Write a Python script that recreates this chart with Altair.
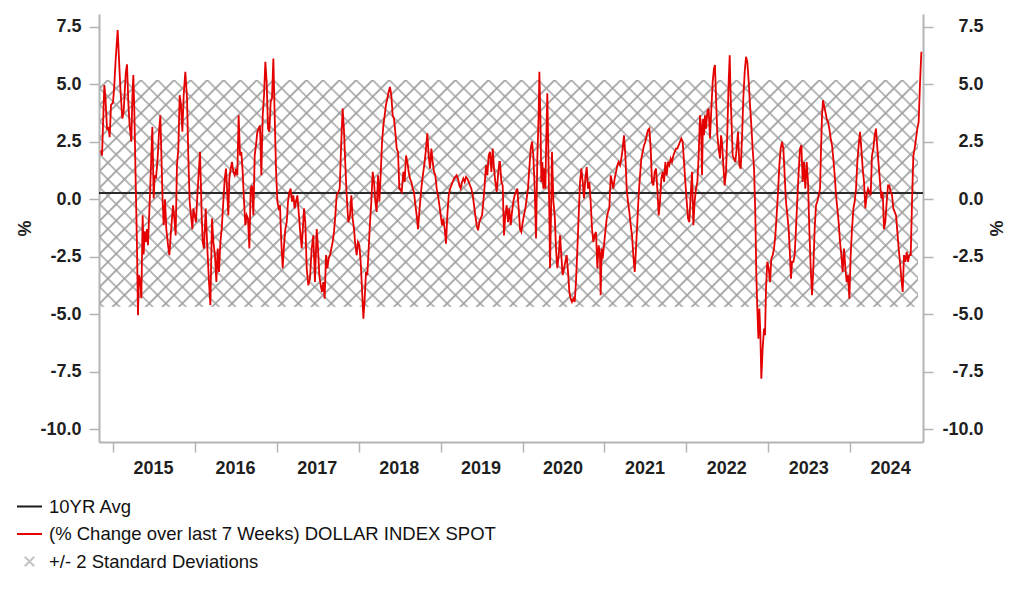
import urllib.parse
import altair as alt
import pandas as pd

# ---------------- data (decimal years, % change) ----------------
yrs_2015 = [2014.853, 2014.866, 2014.894, 2014.906, 2014.927, 2014.947, 2014.959, 2014.976, 2015.000, 2015.016,
            2015.033, 2015.057, 2015.073, 2015.090, 2015.114, 2015.130, 2015.155, 2015.171, 2015.187, 2015.203,
            2015.224, 2015.236, 2015.248, 2015.260, 2015.277, 2015.293, 2015.305, 2015.317, 2015.334, 2015.346,
            2015.362, 2015.374, 2015.387, 2015.403, 2015.415, 2015.427, 2015.448, 2015.464, 2015.480, 2015.497,
            2015.509, 2015.525, 2015.545, 2015.562, 2015.578, 2015.594, 2015.606, 2015.619, 2015.635, 2015.651,
            2015.672, 2015.688, 2015.708, 2015.733, 2015.749, 2015.765, 2015.781, 2015.798, 2015.814, 2015.830,
            2015.847, 2015.863, 2015.883, 2015.904, 2015.920, 2015.936, 2015.952, 2015.969, 2015.981, 2015.997,
            2016.013, 2016.030]
val_2015 = [2.13, 1.9, 4.96, 4.5, 3.07, 3.1, 2.7, 4.1, 4.2, 4.96,
            6.1, 7.35, 6.1, 4.8, 3.5, 3.8, 5.46, 5.86, 4.2, 3.2,
            2.5, 4.4, 5.4, 3.9, 0.75, -2.1, -5.04, -3.3, -3.6, -4.3,
            -0.7, -2.4, -1.4, -1.85, -1.3, -2.0, -0.1, 1.48, 3.14, 0.03,
            1.04, 0.9, 1.77, 2.93, 3.65, 1.48, -0.1, -1.13, 0.0, -1.3,
            -2.0, -2.43, -1.4, -0.26, -0.84, -1.57, 1.48, 2.2, 4.52, 4.1,
            2.93, 4.52, 5.54, 4.38, 1.77, -0.1, -0.7, -1.3, -0.4, -0.7,
            -1.0, 0.17]

yrs_2016 = [2016.062, 2016.083, 2016.095, 2016.111, 2016.132, 2016.152, 2016.172, 2016.189, 2016.209, 2016.225,
            2016.245, 2016.262, 2016.278, 2016.294, 2016.311, 2016.327, 2016.347, 2016.364, 2016.380, 2016.396,
            2016.408, 2016.420, 2016.437, 2016.453, 2016.469, 2016.486, 2016.502, 2016.518, 2016.534, 2016.551,
            2016.567, 2016.583, 2016.600, 2016.616, 2016.632, 2016.648, 2016.665, 2016.681, 2016.697, 2016.714,
            2016.730, 2016.746, 2016.762, 2016.779, 2016.795, 2016.811, 2016.828, 2016.844, 2016.860, 2016.876,
            2016.893, 2016.909, 2016.925, 2016.941, 2016.958, 2016.974, 2016.990, 2017.007, 2017.023, 2017.039,
            2017.055, 2017.072, 2017.088, 2017.104, 2017.121, 2017.137, 2017.153, 2017.169, 2017.186, 2017.202,
            2017.218, 2017.234, 2017.251, 2017.267]
val_2016 = [2.06, -0.7, -1.86, -2.14, -0.4, -2.14, -3.6, -4.6, -0.84, -1.86,
            -2.43, -3.6, -2.14, -3.16, -1.86, -1.3, -0.1, 0.9, 1.33, 0.17,
            -0.7, 0.9, 1.33, 1.62, 1.19, 1.04, 1.33, 1.04, 3.65, 1.9,
            2.06, 1.19, -0.1, -1.13, -0.7, -0.84, -2.14, 0.46, 0.6, -0.7,
            1.9, 2.35, 2.93, 3.07, 3.2, 1.04, 3.65, 4.52, 5.97, 5.1,
            3.07, 2.93, 4.23, 4.38, 6.12, 3.65, 1.33, -0.1, -0.4, -0.26,
            -1.86, -3.0, -2.0, -1.3, -1.0, -0.1, 0.32, 0.46, -0.1, 0.17,
            -0.4, -0.1, 0.17, -0.55]

yrs_2017 = [2017.283, 2017.304, 2017.332, 2017.348, 2017.365, 2017.385, 2017.405, 2017.426, 2017.446, 2017.466,
            2017.487, 2017.503, 2017.519, 2017.536, 2017.552, 2017.568, 2017.584, 2017.601, 2017.617, 2017.633,
            2017.650, 2017.666, 2017.682, 2017.698, 2017.715, 2017.731, 2017.751, 2017.768, 2017.784, 2017.804,
            2017.821, 2017.837, 2017.853, 2017.873, 2017.894, 2017.910, 2017.926, 2017.943, 2017.959, 2017.975,
            2017.991, 2018.008, 2018.024, 2018.040, 2018.057, 2018.073, 2018.089, 2018.105, 2018.122, 2018.138,
            2018.154, 2018.171, 2018.187, 2018.203, 2018.219, 2018.236, 2018.252, 2018.268, 2018.285, 2018.301,
            2018.317, 2018.333, 2018.350, 2018.366, 2018.382, 2018.398, 2018.415, 2018.431, 2018.447, 2018.464,
            2018.480, 2018.496]
val_2017 = [-1.3, -2.14, -0.4, -1.0, -3.0, -3.74, -3.45, -2.14, -1.57, -3.6,
            -1.3, -2.14, -3.3, -3.74, -4.03, -3.6, -4.32, -2.43, -3.0, -2.58,
            -2.43, -2.14, -1.86, -1.42, -0.7, 0.17, 0.32, 0.46, 2.2, 3.94,
            2.93, 1.48, 0.17, -1.0, -0.7, 0.17, -0.84, -1.3, -2.0, -2.43,
            -1.86, -2.0, -2.72, -3.88, -5.19, -4.32, -3.16, -3.3, -2.14, -1.0,
            -0.1, 1.19, 0.75, -0.1, -0.55, 1.04, -0.1, 1.04, 2.5, 3.2,
            3.65, 4.1, 4.38, 4.67, 4.88, 4.52, 3.65, 3.5, 2.93, 2.2,
            2.06, 0.46]

yrs_2018 = [2018.504, 2018.525, 2018.545, 2018.561, 2018.578, 2018.594, 2018.610, 2018.626, 2018.643, 2018.659,
            2018.675, 2018.692, 2018.708, 2018.724, 2018.740, 2018.757, 2018.773, 2018.789, 2018.805, 2018.822,
            2018.838, 2018.854, 2018.871, 2018.887, 2018.903, 2018.919, 2018.936, 2018.952, 2018.968, 2018.985,
            2019.001, 2019.017, 2019.033, 2019.050, 2019.066, 2019.082, 2019.099, 2019.115, 2019.131, 2019.147,
            2019.164, 2019.180, 2019.196, 2019.212, 2019.229, 2019.245, 2019.261, 2019.278, 2019.294, 2019.310,
            2019.326, 2019.343, 2019.359, 2019.375, 2019.392, 2019.408, 2019.424, 2019.440, 2019.457, 2019.473,
            2019.489, 2019.506, 2019.522, 2019.538, 2019.554, 2019.571, 2019.587, 2019.603, 2019.620, 2019.636,
            2019.652, 2019.668, 2019.685, 2019.701, 2019.717]
val_2018 = [0.46, 0.32, 1.19, 0.75, 1.9, 1.62, 1.19, 0.9, 0.75, 0.46,
            0.32, -0.26, -0.7, -1.3, -0.55, 0.17, 0.75, 1.19, 1.62, 2.2,
            2.86, 1.9, 1.33, 2.2, 1.62, 1.19, 1.04, 0.46, 0.17, -0.26,
            -0.7, -1.13, -0.84, -1.3, -1.93, -0.7, 0.17, 0.46, 0.6, 0.75,
            0.9, 0.97, 1.04, 0.9, 0.6, 0.46, 0.75, 0.9, 0.75, 0.97,
            0.9, 0.75, 0.6, 0.46, 0.17, -0.26, -0.7, -1.13, -1.35, -1.0,
            -0.84, -0.7, -0.1, 0.6, 1.48, 1.04, 1.9, 2.06, 1.19, 2.2,
            1.33, 0.75, 0.32, 1.04, 1.62]

yrs_2020 = [2019.725, 2019.742, 2019.758, 2019.774, 2019.790, 2019.807, 2019.823, 2019.839, 2019.856, 2019.872,
            2019.888, 2019.904, 2019.921, 2019.937, 2019.953, 2019.970, 2019.986, 2020.002, 2020.018, 2020.035,
            2020.051, 2020.067, 2020.083, 2020.100, 2020.116, 2020.132, 2020.149, 2020.165, 2020.181, 2020.197,
            2020.206, 2020.218, 2020.230, 2020.242, 2020.254, 2020.267, 2020.279, 2020.291, 2020.303, 2020.315,
            2020.328, 2020.336, 2020.348, 2020.360, 2020.377, 2020.393, 2020.409, 2020.425, 2020.442, 2020.458,
            2020.474, 2020.490, 2020.507, 2020.523, 2020.539, 2020.556, 2020.572, 2020.588, 2020.604, 2020.621,
            2020.637, 2020.653, 2020.670, 2020.686, 2020.702, 2020.718, 2020.735, 2020.751, 2020.767, 2020.784,
            2020.800, 2020.816, 2020.832, 2020.849, 2020.865, 2020.881, 2020.897, 2020.914, 2020.930, 2020.946]
val_2020 = [1.62, 0.75, 0.6, -1.57, -0.7, -0.26, -1.0, -0.4, -1.13, -0.55,
            -0.1, 0.17, 0.32, 0.46, -0.4, -1.3, -1.42, -1.0, -0.7, -0.4,
            0.03, 0.46, 1.33, 2.2, 2.5, 1.9, 0.46, -1.71, 1.77, 3.65,
            5.54, 3.65, 0.75, 1.62, 0.46, 1.33, 0.46, 2.78, 4.6, 2.2,
            -0.7, -3.0, -0.7, 2.06, -0.1, -0.7, -2.14, -3.0, -2.43, -1.57,
            -2.43, -3.3, -3.0, -2.72, -2.43, -3.16, -4.03, -4.32, -4.46, -4.32,
            -4.46, -3.6, -2.14, -0.7, 0.75, 1.33, 0.75, 0.03, 0.9, 1.4,
            0.46, 0.75, -0.1, -1.3, -1.86, -1.57, -1.42, -3.0, -2.0, -2.43]

yrs_2021 = [2020.954, 2020.967, 2020.979, 2020.995, 2021.011, 2021.028, 2021.044, 2021.060, 2021.077, 2021.093,
            2021.109, 2021.125, 2021.142, 2021.158, 2021.174, 2021.191, 2021.207, 2021.223, 2021.239, 2021.256,
            2021.272, 2021.288, 2021.304, 2021.321, 2021.337, 2021.353, 2021.370, 2021.386, 2021.402, 2021.418,
            2021.435, 2021.451, 2021.467, 2021.484, 2021.500, 2021.516, 2021.532, 2021.549, 2021.565, 2021.581,
            2021.598, 2021.614, 2021.630, 2021.646, 2021.663, 2021.679, 2021.695, 2021.712, 2021.728, 2021.744,
            2021.760, 2021.777, 2021.793, 2021.809, 2021.825, 2021.842, 2021.858, 2021.874, 2021.891, 2021.907,
            2021.923, 2021.939, 2021.956, 2021.972, 2021.988, 2022.005, 2022.021, 2022.037, 2022.053, 2022.070,
            2022.086, 2022.102, 2022.118, 2022.135, 2022.151]
val_2021 = [-4.17, -2.14, -2.58, -2.0, -1.42, -0.84, -0.55, -0.4, 1.04, 0.75,
            0.46, 0.9, 1.19, 1.48, 1.62, 1.48, 1.77, 2.2, 2.78, 1.9,
            0.46, -0.1, -0.55, -1.13, -1.57, -2.43, -3.16, -2.14, -1.0, 0.17,
            1.04, 1.77, 2.06, 2.35, 2.5, 2.78, 3.0, 3.07, 2.2, 0.75,
            0.6, 1.19, 1.33, 0.46, -0.7, -0.1, 0.9, 1.19, 0.75, 1.62,
            1.04, 1.62, 1.48, 1.77, 1.62, 1.9, 2.06, 2.2, 2.2, 2.35,
            2.5, 2.64, 2.5, 1.62, 0.75, -0.1, -0.84, -1.0, 0.17, 1.19,
            -1.13, -0.1, 0.46, 0.75, 1.9]

yrs_2022 = [2022.167, 2022.180, 2022.192, 2022.204, 2022.216, 2022.228, 2022.241, 2022.257, 2022.273, 2022.289,
            2022.306, 2022.322, 2022.338, 2022.350, 2022.363, 2022.379, 2022.395, 2022.412, 2022.424, 2022.436,
            2022.452, 2022.468, 2022.485, 2022.501, 2022.517, 2022.530, 2022.542, 2022.554, 2022.566, 2022.582,
            2022.599, 2022.615, 2022.631, 2022.648, 2022.664, 2022.680, 2022.696, 2022.713, 2022.729, 2022.745,
            2022.762, 2022.778, 2022.794, 2022.810, 2022.827, 2022.843, 2022.855, 2022.867, 2022.880, 2022.892,
            2022.904, 2022.916, 2022.932, 2022.949, 2022.961, 2022.973, 2022.989, 2023.006, 2023.022, 2023.038,
            2023.055, 2023.071, 2023.087, 2023.103, 2023.120, 2023.136, 2023.152, 2023.169, 2023.185, 2023.201,
            2023.217, 2023.234, 2023.250, 2023.266, 2023.278, 2023.291, 2023.307, 2023.323, 2023.339, 2023.356,
            2023.372]
val_2022 = [3.65, 3.2, 1.04, 3.5, 2.78, 3.65, 3.07, 3.8, 3.94, 2.64,
            3.94, 5.1, 5.68, 5.83, 4.38, 2.78, 2.2, 1.77, 2.78, 2.5,
            1.48, 0.6, 1.19, 2.93, 5.1, 6.26, 4.38, 3.2, 1.9, 1.77,
            1.62, 2.2, 2.93, 1.48, 1.33, 2.64, 4.38, 5.54, 6.19, 5.97,
            5.1, 4.09, 3.2, 2.2, 1.33, -0.7, -3.3, -4.75, -6.06, -4.75,
            -5.83, -7.8, -6.5, -5.62, -5.91, -3.88, -2.72, -3.0, -3.6, -2.58,
            -2.43, -2.14, -1.57, -0.7, 0.32, 1.48, 2.2, 2.5, 2.2, 1.04,
            -0.1, -0.7, -1.3, -2.43, -3.45, -2.72, -2.72, -2.43, -1.3, 0.03,
            1.19]

yrs_2023 = [2023.388, 2023.405, 2023.421, 2023.437, 2023.453, 2023.470, 2023.486, 2023.502, 2023.519, 2023.535,
            2023.551, 2023.567, 2023.584, 2023.600, 2023.616, 2023.633, 2023.645, 2023.657, 2023.669, 2023.681,
            2023.698, 2023.714, 2023.730, 2023.746, 2023.763, 2023.779, 2023.795, 2023.812, 2023.828, 2023.844,
            2023.860, 2023.877, 2023.893, 2023.909, 2023.926, 2023.942, 2023.958, 2023.974, 2023.991, 2024.007,
            2024.023, 2024.040, 2024.056, 2024.072, 2024.088, 2024.105, 2024.121, 2024.137, 2024.154, 2024.170,
            2024.186, 2024.202, 2024.219, 2024.235, 2024.251, 2024.267, 2024.284, 2024.300, 2024.316, 2024.333,
            2024.349, 2024.365, 2024.381, 2024.398, 2024.414, 2024.430, 2024.447, 2024.463, 2024.479, 2024.495,
            2024.512, 2024.528, 2024.544, 2024.561, 2024.577, 2024.593, 2024.609, 2024.626, 2024.642, 2024.658,
            2024.674, 2024.691, 2024.707, 2024.723, 2024.740, 2024.756, 2024.772, 2024.788, 2024.805, 2024.821,
            2024.837, 2024.854, 2024.870]
val_2023 = [2.2, 2.35, 0.75, 1.62, 0.46, 1.62, 0.75, -1.3, -3.0, -4.17,
            -3.0, -1.3, -0.26, -0.1, 0.17, 0.46, 2.2, 3.65, 4.3, 4.09,
            3.8, 3.5, 3.36, 3.07, 2.64, 2.35, 1.77, 1.04, 0.17, -0.4,
            -1.0, -1.86, -2.43, -3.16, -2.14, -3.0, -3.6, -3.3, -4.32, -2.43,
            -1.3, -0.4, -0.1, 0.46, 1.62, 2.35, 2.93, 2.2, 1.33, 0.75,
            -0.4, 0.17, 0.46, 0.32, 0.17, 1.9, 2.2, 2.78, 3.07, 2.2,
            1.48, 0.75, 0.03, 0.32, -1.3, -1.0, -0.1, 0.6, 0.6, 0.32,
            0.17, -0.4, -0.55, -0.7, -1.42, -2.14, -2.72, -3.45, -4.03, -2.43,
            -2.72, -2.29, -2.72, -2.43, -2.43, -0.1, 1.9, 2.2, 2.64, 3.07,
            3.36, 5.1, 6.41]

avg_10yr = 0.27                 # 10YR average line
band_low, band_high = -4.68, 5.18   # +/- 2 standard deviations
band_start, band_end = 2014.837, 2024.83

year_ticks = list(range(2015, 2025))
y_ticks = [-10.0, -7.5, -5.0, -2.5, 0.0, 2.5, 5.0, 7.5]
series_names = ["10YR Avg", "(% Change over last 7 Weeks) DOLLAR INDEX SPOT", "+/- 2 Standard Deviations"]

# ---------------- tables ----------------
segments = [(yrs_2015, val_2015), (yrs_2016, val_2016), (yrs_2017, val_2017), (yrs_2018, val_2018),
            (yrs_2020, val_2020), (yrs_2021, val_2021), (yrs_2022, val_2022), (yrs_2023, val_2023)]
rows = []
for ys, vs in segments:
    rows.extend(zip(ys, vs))
line_df = pd.DataFrame(rows, columns=["year", "pct"])
band_df = pd.DataFrame({"start": [band_start], "end": [band_end], "lo": [band_low], "hi": [band_high]})
avg_df = pd.DataFrame({"avg": [avg_10yr]})
legend_df = pd.DataFrame({"series": series_names})

# ---------------- styling ----------------
W, H = 824, 428
FONT = "Liberation Sans"
TXT = "#1f1f1f"
AX = "#b4b4b4"
x_dom = [2014.829, 2024.890]
y_dom = [-10.55, 8.05]

# crosshatch fill pattern (decoration only), drawn as an svg image stretched over the band
hw = (band_end - band_start) * W / (x_dom[1] - x_dom[0])
hh = (band_high - band_low) * H / (y_dom[1] - y_dom[0])
d = 11.7
svg = (f"<svg xmlns='http://www.w3.org/2000/svg' width='{hw:.1f}' height='{hh:.1f}' "
       f"viewBox='0 0 {hw:.1f} {hh:.1f}' preserveAspectRatio='none'>"
       f"<defs><pattern id='h' width='{d}' height='{d}' patternUnits='userSpaceOnUse' "
       f"patternTransform='rotate(45)'>"
       f"<path d='M0 {d/2}H{d}M{d/2} 0V{d}' stroke='#9f9f9f' stroke-width='1.7' fill='none'/>"
       f"</pattern></defs><rect width='{hw:.1f}' height='{hh:.1f}' fill='url(#h)'/></svg>")
hatch_url = "data:image/svg+xml;charset=utf-8," + urllib.parse.quote(svg)

xscale = alt.Scale(domain=x_dom, nice=False, zero=False)
yscale = alt.Scale(domain=y_dom, nice=False, zero=False)

# plain hyphen for negative numbers, as in the reference
ylab = "(datum.value < 0 ? '-' : '') + format(abs(datum.value), '.1f')"

x_axis = alt.Axis(values=year_ticks, format="d", title=None, labelOffset=40, labelFlush=False,
                  labelOverlap=False, tickSize=10, labelPadding=7, grid=False)
y_left = alt.Axis(orient="left", values=y_ticks, labelExpr=ylab, title="%", tickSize=10,
                  labelPadding=8, titlePadding=5, grid=False, labelFlush=False)
y_right = alt.Axis(orient="right", values=y_ticks, labelExpr=ylab, title="%", tickSize=10,
                   labelAlign="right", labelPadding=50, titlePadding=2, grid=False, labelFlush=False)

band = alt.Chart(band_df).mark_image(aspect=False).encode(
    x=alt.X("start:Q", scale=xscale, axis=x_axis),
    x2="end:Q",
    y=alt.Y("hi:Q", scale=yscale, axis=y_left),
    y2="lo:Q",
    url=alt.value(hatch_url),
)

avg = alt.Chart(avg_df).mark_rule(color="#2b2b2b", strokeWidth=2).encode(
    y=alt.Y("avg:Q", scale=yscale, axis=None),
)

line = alt.Chart(line_df).mark_line(color="#e50000", strokeWidth=1.8).encode(
    x=alt.X("year:Q", scale=xscale, axis=x_axis),
    y=alt.Y("pct:Q", scale=yscale, axis=y_right),
)

leg = alt.Legend(title=None, orient="none", legendX=-83, legendY=479, direction="vertical",
                 symbolSize=625, symbolStrokeWidth=2, symbolOpacity=1, labelFontSize=18.5,
                 labelFont=FONT, labelColor="#111111", labelOffset=6, rowPadding=4.5, padding=0,
                 labelLimit=0, labelFontWeight="normal")
legend_layer = alt.Chart(legend_df).mark_point(opacity=0, filled=False).encode(
    color=alt.Color("series:N", scale=alt.Scale(domain=series_names, range=["#1a1a1a", "#e50000", "#c4c4c4"]),
                    legend=leg),
    shape=alt.Shape("series:N", scale=alt.Scale(domain=series_names,
                                                range=["stroke", "stroke", "M-0.38,-0.38L0.38,0.38M0.38,-0.38L-0.38,0.38"]),
                    legend=leg),
)

chart = alt.layer(band, avg, line, legend_layer).resolve_scale(y="shared").resolve_axis(y="independent").properties(
    width=W, height=H,
    padding={"left": 91, "top": 6, "right": 91, "bottom": 147},
    autosize=alt.AutoSizeParams(type="none"),
).configure(font=FONT, background="white").configure_view(stroke=None).configure_axis(
    domainColor=AX, domainWidth=2, tickColor=AX, tickWidth=1.5,
    labelColor=TXT, labelFontSize=18, labelFontWeight="bold", labelFont=FONT,
    titleColor=TXT, titleFontSize=18, titleFontWeight="bold", titleFont=FONT,
)

chart.save("out.html", embed_options={"renderer": "svg", "actions": False})
